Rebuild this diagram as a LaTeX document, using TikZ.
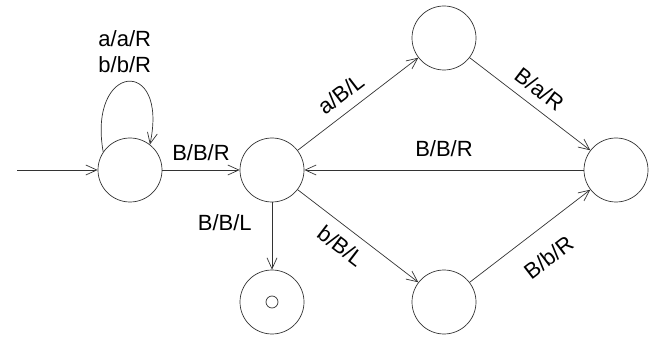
\documentclass[tikz,border=0pt]{standalone}
\usepackage{fontspec}
\setmainfont{Liberation Sans}
\usetikzlibrary{arrows.meta}

\begin{document}
\begin{tikzpicture}[
    x=1pt, y=1pt,
    state/.style={circle, draw=black!80, line width=0.7pt, minimum size=64pt, inner sep=0pt},
    edge/.style={draw=black!80, line width=0.7pt, -{Straight Barb[length=11pt, width=10pt]}},
    lab/.style={font=\fontsize{22}{26}\selectfont, inner sep=2pt},
  ]
  \useasboundingbox (0,0) rectangle (659,343);

  % --- states --------------------------------------------------------------
  \node[state] (q0) at (130,173) {};
  \node[state] (q1) at (272,173) {};
  \node[state] (q2) at (444,305) {};
  \node[state] (q3) at (616,173) {};
  \node[state] (q4) at (444,41)  {};
  \node[state] (qf) at (272,41)  {};
  \node[circle, draw=black!80, line width=0.7pt, minimum size=12pt, inner sep=0pt] (qfdot) at (qf) {};
  \coordinate (start) at (17,173);

  % --- transitions ---------------------------------------------------------
  \draw[edge] (start) -- (q0);
  \draw[edge] (q0.146) to[out=100, in=78, looseness=4.9]
    node[lab, above=6pt, xshift=-3pt, align=center] {a/a/R\\b/b/R} (q0.52);
  \draw[edge] (q0) -- (q1) node[lab, midway, above=7pt] {B/B/R};
  \draw[edge] (q1) -- (q2) node[lab, pos=0.45, sloped, above=8pt] {a/B/L};
  \draw[edge] (q2) -- (q3) node[lab, pos=0.49, sloped, above=7pt] {B/a/R};
  \draw[edge] (q3) -- (q1) node[lab, midway, above=11pt] {B/B/R};
  \draw[edge] (q1) -- (q4) node[lab, pos=0.45, sloped, below=8pt] {b/B/L};
  \draw[edge] (q4) -- (q3) node[lab, pos=0.51, sloped, below=18pt] {B/b/R};
  \draw[edge] (q1) -- (qf) node[lab, pos=0.3, left=18pt] {B/B/L};

\end{tikzpicture}
\end{document}
